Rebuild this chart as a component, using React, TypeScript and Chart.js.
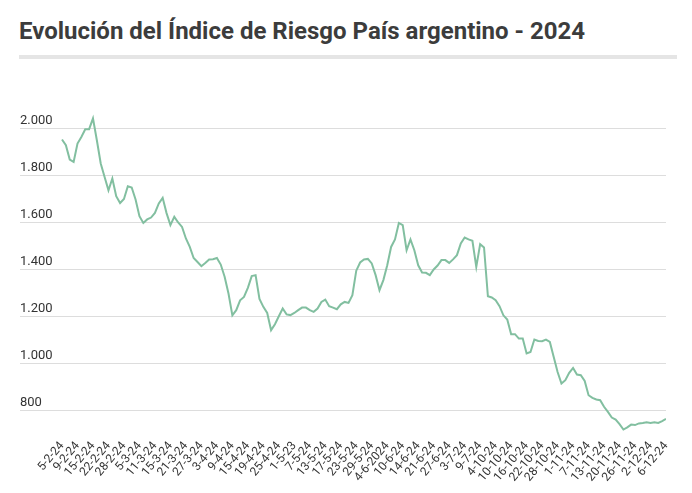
import { useEffect, useRef } from "react";
import { Chart, registerables } from "chart.js";

Chart.register(...registerables);

const TITLE = "Evolución del Índice de Riesgo País argentino - 2024";

const TICK_LABELS = [
  "5-2-24", "9-2-24", "15-2-24", "22-2-24", "28-2-24", "5-3-24", "11-3-24", "15-3-24",
  "21-3-24", "27-3-24", "3-4-24", "9-4-24", "15-4-24", "19-4-24", "25-4-24", "1-5-23",
  "7-5-24", "13-5-24", "17-5-24", "23-5-24", "29-5-24", "4-6-2024", "10-6-24", "14-6-24",
  "21-6-24", "27-6-24", "3-7-24", "9-7-24", "4-10-24", "10-10-24", "16-10-24", "22-10-24",
  "28-10-24", "1-11-24", "7-11-24", "13-11-24", "20-11-24", "26-11-24", "2-12-24", "6-12-24",
];

const POINTS_PER_TICK = 4;

const VALUES = [
  1953, 1929, 1868, 1858, 1936, 1964, 1997, 1997, 2043, 1950, 1851, 1794, 1737, 1787, 1712, 1683,
  1700, 1754, 1749, 1698, 1627, 1598, 1613, 1621, 1641, 1681, 1705,
  1640, 1589, 1624, 1600, 1581, 1532, 1496, 1449, 1432, 1414, 1428, 1443, 1444, 1449, 1421, 1369,
  1298, 1205, 1227, 1269, 1283, 1322, 1372, 1376, 1275,
  1241, 1215, 1142, 1167, 1201, 1234, 1209, 1206, 1215, 1227, 1238, 1238, 1227, 1220, 1234, 1262,
  1272, 1244, 1238, 1231, 1252, 1262, 1258, 1291, 1395, 1430,
  1443, 1445, 1426, 1376, 1312, 1355, 1418, 1496, 1528, 1598, 1589, 1482, 1528, 1482, 1418, 1387,
  1386, 1376, 1400, 1417, 1440, 1440, 1428, 1443, 1461, 1511,
  1536, 1528, 1522, 1411, 1508, 1494, 1286, 1281, 1269, 1244, 1205, 1187, 1125, 1125, 1106, 1106,
  1043, 1049, 1102, 1096, 1095, 1102, 1092, 1028, 964, 915,
  929, 960, 981, 953, 950, 926, 865, 854, 847, 844, 816, 794, 770, 761, 742, 719,
  728, 740, 738, 745, 747, 750, 747, 750, 747, 755, 764,
];

const Y_TICKS = [800, 1000, 1200, 1400, 1600, 1800, 2000];

function fmt(v: number): string {
  return String(v).replace(/\B(?=(\d{3})+(?!\d))/g, ".");
}

export default function App() {
  const ref = useRef<HTMLCanvasElement>(null);

  useEffect(() => {
    if (!ref.current) return;
    const chart = new Chart(ref.current, {
      type: "line",
      data: {
        datasets: [
          {
            data: VALUES.map((v, i) => ({ x: i, y: v })),
            borderColor: "#82bfa0",
            borderWidth: 2,
            pointRadius: 0,
            pointHoverRadius: 0,
            tension: 0,
            fill: false,
          },
        ],
      },
      options: {
        animation: false,
        responsive: true,
        maintainAspectRatio: false,
        layout: { padding: { left: 12, right: 18, top: 46, bottom: 0 } },
        plugins: { legend: { display: false }, tooltip: { enabled: false } },
        scales: {
          x: {
            type: "linear",
            min: -10.85,
            max: VALUES.length - 1,
            grid: { display: false, drawTicks: false },
            border: { display: false },
            afterBuildTicks: (s: any) => {
              s.ticks = TICK_LABELS.map((_, i) => ({ value: i * POINTS_PER_TICK }));
            },
            afterFit: (s: any) => {
              s.height = 51;
            },
            ticks: {
              autoSkip: false,
              minRotation: 50,
              maxRotation: 50,
              padding: 5,
              color: "#333333",
              font: { family: "Roboto", size: 12 },
              callback: (_v: any, i: number) => TICK_LABELS[i],
            },
          },
          y: {
            min: 700,
            max: 2100,
            grid: { color: "#dddddd", drawTicks: false },
            border: { display: false },
            afterBuildTicks: (s: any) => {
              s.ticks = Y_TICKS.map((v) => ({ value: v }));
            },
            afterFit: (s: any) => {
              s.width = 0;
            },
            ticks: {
              mirror: true,
              padding: 0,
              labelOffset: -8,
              color: "#333333",
              font: { family: "Roboto", size: 13 },
              callback: (v: any) => fmt(Number(v)),
            },
          },
        },
      },
    });
    return () => chart.destroy();
  }, []);

  return (
    <div>
      <div
        style={{
          fontFamily: "Roboto",
          fontWeight: 700,
          fontSize: 24,
          color: "#3c3c3c",
          lineHeight: "28px",
          padding: "9px 0 0 11px",
          margin: 0,
          whiteSpace: "nowrap",
        }}
      >
        {TITLE}
      </div>
      <div style={{ marginLeft: 11, marginTop: 10, width: 658, height: 4, background: "#e5e5e5" }} />
      <div style={{ position: "relative", height: 426 }}>
        <canvas ref={ref} />
      </div>
    </div>
  );
}
